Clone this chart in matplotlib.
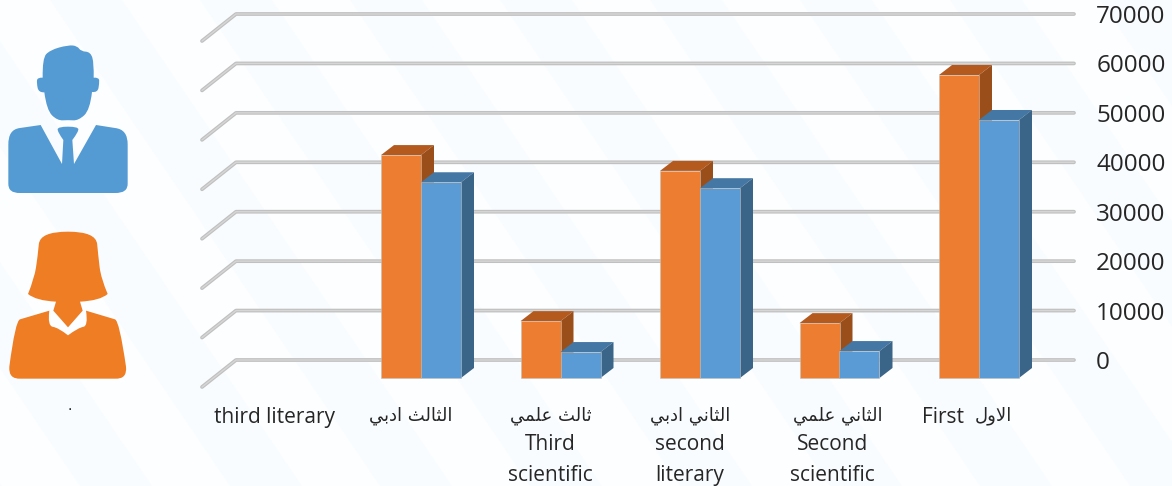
import matplotlib
matplotlib.use("Agg")
import matplotlib.pyplot as plt
from matplotlib.patches import Polygon, PathPatch
from matplotlib.path import Path

# ---------- data ----------
categories = ["third literary", "third adabi", "third scientific",
              "second literary", "second scientific", "first"]
female_values = [0, 45100, 11500, 41900, 11100, 61300]
male_values = [0, 39600, 5250, 38400, 5450, 52200]
y_ticks = [0, 10000, 20000, 30000, 40000, 50000, 60000, 70000]

ALEF_I, ALEF_F = "\uFE8D", "\uFE8E"
LAM_I, LAM_M, LAM_S = "\uFEDF", "\uFEE0", "\uFEDD"
THEH_I, THEH_M, THEH_F = "\uFE9B", "\uFE9C", "\uFE9A"
NOON_I, YEH_F = "\uFEE7", "\uFEF2"
AIN_I, MEEM_M = "\uFECB", "\uFEE4"
DAL_S, BEH_I = "\uFEA9", "\uFE91"
WAW_S, LAMALEF = "\uFEED", "\uFEFB"
w_thalith = ALEF_I + LAM_I + THEH_M + ALEF_F + LAM_I + THEH_F
w_thalith_b = THEH_I + ALEF_F + LAM_I + THEH_F
w_thani = ALEF_I + LAM_I + THEH_M + ALEF_F + NOON_I + YEH_F
w_adabi = ALEF_I + DAL_S + BEH_I + YEH_F
w_ilmi = AIN_I + LAM_M + MEEM_M + YEH_F
w_awal = ALEF_I + LAMALEF + WAW_S + LAM_S


def visual(*words):
    return " ".join(w[::-1] for w in reversed(words))


arabic_labels = ["", visual(w_thalith, w_adabi), visual(w_thalith_b, w_ilmi),
                 visual(w_thani, w_adabi), visual(w_thani, w_ilmi), visual(w_awal)]
english_labels = ["third literary", "", "Third\nscientific",
                  "second\nliterary", "Second\nscientific", "First"]

# ---------- layout ----------
W, H = 1172, 486
fig = plt.figure(figsize=(W / 100, H / 100), dpi=100, facecolor="#fdfeff")

bg = fig.add_axes([0, 0, 1, 1], zorder=0)
bg.set_xlim(0, W)
bg.set_ylim(H, 0)
bg.axis("off")
for s in range(-400, 1500, 150):
    bg.add_patch(Polygon([(s, 0), (s + 72, 0), (s + 72 + 330, H), (s + 330, H)],
                         closed=True, fc="#f9fcff", ec="none"))


def icon(points, color, ox=0, oy=30, k=1 / 3):
    """Closed outline; points with a third element are sharp corners, others round off."""
    n = len(points)
    xy = [(ox + p[0] * k, oy + p[1] * k) for p in points]
    corner = [len(p) == 3 for p in points]
    first = corner.index(True)
    verts = [xy[first]]
    codes = [Path.MOVETO]
    for j in range(1, n + 1):
        i = (first + j) % n
        if corner[i]:
            verts.append(xy[i])
            codes.append(Path.LINETO)
        else:
            nx = xy[(i + 1) % n]
            verts += [xy[i], ((xy[i][0] + nx[0]) / 2, (xy[i][1] + nx[1]) / 2)]
            codes += [Path.CURVE3, Path.CURVE3]
            if corner[(i + 1) % n]:
                verts[-1] = nx
    verts.append(verts[0])
    codes.append(Path.CLOSEPOLY)
    bg.add_patch(PathPatch(Path(verts, codes), fc=color, ec="none"))


MAN = "#559bd3"
WOMAN = "#ee7d24"
C = "c"
icon([(128, 143, C), (127, 85), (150, 60), (205, 45), (232, 48), (243, 64), (272, 66), (282, 100),
      (281, 143, C), (297, 142), (298, 160), (293, 188), (276, 186, C), (270, 240), (235, 272),
      (205, 270), (172, 272), (140, 240), (133, 187, C), (116, 188), (110, 160), (112, 142)], MAN)
icon([(122, 285, C), (186, 402, C), (190, 330, C), (172, 305), (174, 290), (234, 290), (236, 305),
      (217, 330, C), (222, 402, C), (288, 285, C), (345, 294, C), (384, 298), (383, 345, C),
      (383, 460, C), (384, 490), (345, 489, C), (60, 489, C), (24, 490), (25, 460, C), (25, 345, C),
      (24, 298), (60, 294, C)], MAN)
icon([(323, 792, C), (300, 812), (240, 815, C), (248, 842, C), (204, 892, C), (160, 842, C),
      (168, 815, C), (108, 812), (84, 792, C), (103, 745), (113, 680), (120, 605), (288, 605),
      (295, 680), (303, 745)], WOMAN)
icon([(148, 842, C), (142, 888), (175, 893), (204, 916, C), (235, 893), (265, 888), (258, 842, C),
      (345, 868, C), (358, 872), (378, 1010, C), (382, 1048), (345, 1046, C), (62, 1046, C), (25, 1048),
      (28, 1010, C), (46, 872), (60, 868, C)], WOMAN)
bg.text(70, 410, ".", fontsize=10, ha="center", va="baseline", color="#111111")

ax = fig.add_axes([236 / W, (H - 360) / H, 838 / W, 346 / H], zorder=1)
ax.patch.set_visible(False)
for sp in ax.spines.values():
    sp.set_visible(False)
ax.set_xlim((236 - 281.5) / 139.5, (1074 - 281.5) / 139.5)
ax.set_ylim(0, 70000)
px_x = 1 / 139.5
px_y = 70000 / 346

# gridlines on the back wall, returning along the floor
xl, xr = ax.get_xlim()
for v in y_ticks:
    xs = [xl - 34 * px_x, xl, xr]
    ys = [v - 27 * px_y, v, v]
    ax.plot(xs, ys, color="#c0c0c0", lw=2.7, solid_capstyle="round", clip_on=False, zorder=1)
    ax.plot(xs, ys, color="#d6d6d6", lw=1.0, solid_capstyle="round", clip_on=False, zorder=1.1)

# y axis labels on the right
ax.yaxis.tick_right()
ax.set_yticks(y_ticks)
ax.set_yticklabels([str(v) for v in y_ticks], fontfamily="Open Sans", fontsize=17.5, color="#262626")
ax.tick_params(axis="y", length=0, pad=16)
for lab in ax.get_yticklabels():
    lab.set_va("center_baseline")
ax.set_xticks([])

# bars
front_base = -18 * px_y
bar_w = 40 * px_x
dep_x, dep_y = 13 * px_x, 10 * px_y
series = [(female_values, -bar_w / 2, "#ed7d31", "#b55a1f", "#9a4f1b"),
          (male_values, bar_w / 2, "#5b9bd5", "#4577a5", "#3a6488")]
z = 3
for vals, off, front, top, side in series:
    drawn = [i for i, v in enumerate(vals) if v > 0]
    for i in drawn:
        v = vals[i]
        x0, x1 = i + off - bar_w / 2, i + off + bar_w / 2
        t = front_base + v
        ax.add_patch(Polygon([(x0, t), (x1, t), (x1 + dep_x, t + dep_y), (x0 + dep_x, t + dep_y)],
                             closed=True, fc=top, ec="none", zorder=z, clip_on=False))
        ax.add_patch(Polygon([(x1, front_base), (x1 + dep_x, front_base + dep_y),
                              (x1 + dep_x, t + dep_y), (x1, t)],
                             closed=True, fc=side, ec="none", zorder=z, clip_on=False))
    z += 1
    ax.bar([i + off for i in drawn], [vals[i] for i in drawn], width=bar_w, bottom=front_base,
           color=front, edgecolor="#c4bfb9", linewidth=0.4, zorder=z, clip_on=False)
    z += 1

# category labels under the floor
label_tf = ax.get_xaxis_transform()
ar_dx = [0, -10, -10, -10, -2, 14]
en_dx = [-6.5, 0, -10, -10, -7, -36]
for i in range(len(categories)):
    if arabic_labels[i]:
        ax.annotate(arabic_labels[i], xy=(i, 0), xycoords=label_tf,
                    xytext=(ar_dx[i], -56), textcoords="offset pixels",
                    ha="center", va="center", fontfamily="DejaVu Sans", fontsize=13,
                    color="#262626", annotation_clip=False)
    if english_labels[i]:
        is_single = "\n" not in english_labels[i]
        ax.annotate(english_labels[i], xy=(i, 0), xycoords=label_tf,
                    xytext=(en_dx[i], -57 if is_single else -100), textcoords="offset pixels",
                    ha="center", va="center", fontfamily="Open Sans", fontsize=15,
                    linespacing=1.64, color="#262626", annotation_clip=False)

fig.savefig("out.png", dpi=100, facecolor=fig.get_facecolor())
